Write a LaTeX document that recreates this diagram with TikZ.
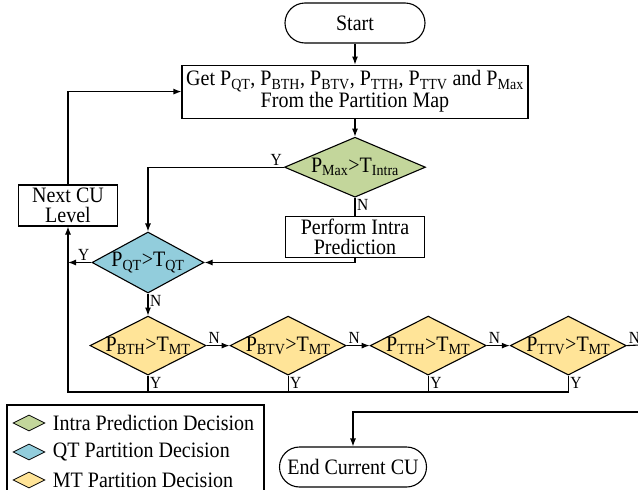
\documentclass[tikz,border=0pt]{standalone}
\usepackage{fontspec}
\setmainfont{Liberation Serif}[FakeStretch=0.91]
\usetikzlibrary{arrows.meta,positioning,shapes.geometric}

\definecolor{intragreen}{RGB}{195,214,155}
\definecolor{qtblue}{RGB}{146,205,220}
\definecolor{mtgold}{RGB}{255,228,152}
\newcommand{\ctr}[1]{\makebox[0pt]{#1}}

\begin{document}
\begin{tikzpicture}[x=1pt, y=1pt, >={Latex[length=8pt,width=6pt]}, line width=1.1pt,
	every node/.style={font=\fontsize{22}{20}\selectfont},
	term/.style={draw, rectangle, rounded corners=20pt, minimum height=40pt, inner sep=0pt},
	proc/.style={draw, rectangle, align=center, inner sep=0pt},
	dec/.style={draw, diamond, inner sep=0pt},
	mtdec/.style={dec, fill=mtgold, minimum width=116pt, minimum height=59pt},
	legdec/.style={dec, line width=0.8pt, minimum width=32pt, minimum height=16pt},
	yn/.style={font=\fontsize{17}{17}\selectfont, inner sep=1.5pt}]
	\useasboundingbox (0,0) rectangle (638,-490);
	% Nodes
	\node[term, minimum width=140pt] (start) at (355,-23) {Start};
	\node[proc, below=21pt of start, minimum width=346pt, minimum height=53pt] (getp)
		{Get P\textsubscript{QT}, P\textsubscript{BTH}, P\textsubscript{BTV}, P\textsubscript{TTH}, P\textsubscript{TTV} and P\textsubscript{Max}\\From the Partition Map};
	\node[dec, fill=intragreen, below=18pt of getp, minimum width=141pt, minimum height=60pt] (intra)
		{\ctr{P\textsubscript{Max}>T\textsubscript{Intra}}};
	\node[proc, below=18pt of intra, minimum width=139pt, minimum height=41pt] (perf) {Perform Intra\\Prediction};
	\node[dec, fill=qtblue, minimum width=112pt, minimum height=61pt] (qt) at (148,-262.5)
		{\ctr{P\textsubscript{QT}>T\textsubscript{QT}}};
	\node[proc, minimum width=99pt, minimum height=41pt] (next) at (68,-205.5) {Next CU\\Level};
	
	\node[mtdec, below=22pt of qt] (bth) {\ctr{P\textsubscript{BTH}>T\textsubscript{MT}}};
	\node[mtdec, right=23pt of bth] (btv) {\ctr{P\textsubscript{BTV}>T\textsubscript{MT}}};
	\node[mtdec, right=23pt of btv] (tth) {\ctr{P\textsubscript{TTH}>T\textsubscript{MT}}};
	\node[mtdec, right=23pt of tth] (ttv) {\ctr{P\textsubscript{TTV}>T\textsubscript{MT}}};
	
	\node[term, minimum width=147pt] (endcu) at (353,-467) {End Current CU};
	
	% Legend
	\draw (7,-405) rectangle (264,-500);
	\node[legdec, fill=intragreen] (leg1) at (29,-423) {};
	\node[legdec, fill=qtblue] (leg2) at (29,-452) {};
	\node[legdec, fill=mtgold] (leg3) at (29,-480) {};
	\node[right=7pt of leg1, inner sep=0pt] (legt1) {Intra Prediction Decision};
	\node[right=7pt of leg2, inner sep=0pt] (legt2) {QT Partition Decision};
	\node[right=7pt of leg3, inner sep=0pt] (legt3) {MT Partition Decision};
	
	% Arrows
	\coordinate (loop) at (68,-392);
	\coordinate (out) at (650,-344.5);
	\coordinate (back) at (650,-412);
	\draw[->] (start) -- (getp);
	\draw[->] (getp) -- (intra);
	\draw[->] (intra.west) node[yn, anchor=south east] (yintra) {Y} -| (qt.north);
	\draw (intra.south) node[yn, anchor=north west] (nintra) {N} -- (perf.north);
	\draw[->] (perf.south) |- (qt.east);
	\draw[->] (qt.west) node[yn, anchor=south east] (yqt) {Y} -- (next.south |- qt.west);
	\draw[->] (qt.south) node[yn, anchor=north west] (nqt) {N} -- (bth.north);
	\draw[->] (bth.east) node[yn, anchor=south west] (nbth) {N} -- (btv.west);
	\draw[->] (btv.east) node[yn, anchor=south west] (nbtv) {N} -- (tth.west);
	\draw[->] (tth.east) node[yn, anchor=south west] (ntth) {N} -- (ttv.west);
	\draw (ttv.east) node[yn, anchor=south west] (nttv) {N} -- (out);
	\foreach \d in {bth,btv,tth}
		\draw (\d.south) node[yn, anchor=north west] (y\d) {Y} -- (\d.south |- loop);
	\draw[->] (ttv.south) node[yn, anchor=north west] (yttv) {Y} |- (loop) -- (next.south);
	\draw[->] (next.north) |- (getp.west);
	\draw[->] (back) -| (endcu.north);
\end{tikzpicture}
\end{document}
